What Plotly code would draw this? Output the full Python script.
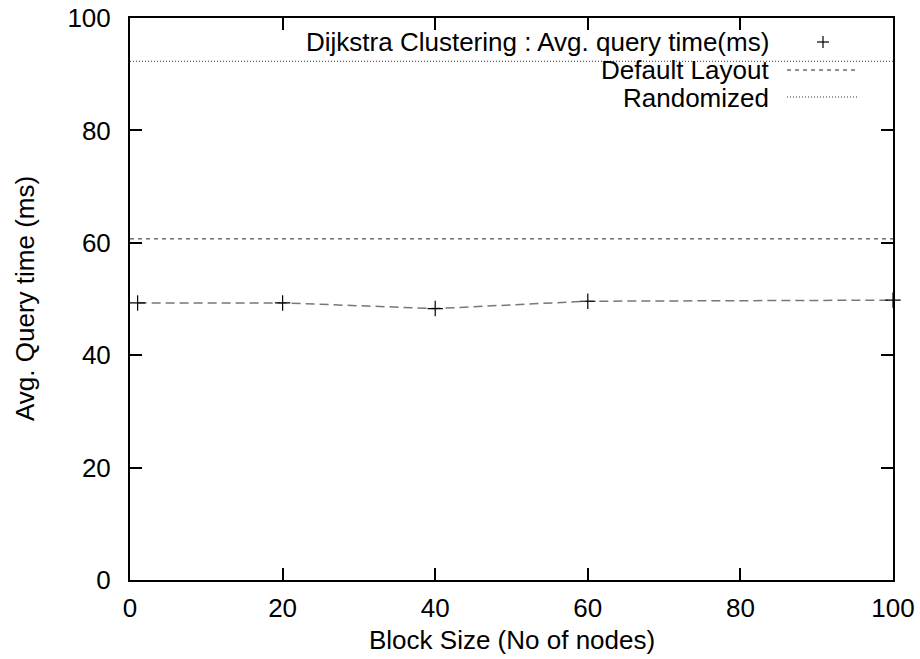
import plotly.graph_objects as go

# Data
block_sizes = [1, 20, 40, 60, 100]
dijkstra_ms = [49.3, 49.3, 48.3, 49.6, 49.8]
default_x = [0, 100]
default_ms = [60.7, 60.7]
random_x = [0, 100]
random_ms = [92.3, 92.3]
x_ticks = [0, 20, 40, 60, 80, 100]
y_ticks = [0, 20, 40, 60, 80, 100]
legend_labels = ["Dijkstra Clustering : Avg. query time(ms)", "Default Layout", "Randomized"]

FONT = "Liberation Sans, Arial, sans-serif"
FS = 26

# plot area in pixels
W, H = 920, 659
L, R, T, B = 130, 27, 18, 79
pw = W - L - R
ph = H - T - B

def px_x(p):
    return (p - L) / pw

def px_y(p):
    return (H - B - p) / ph

fig = go.Figure()

fig.add_trace(go.Scatter(
    x=random_x, y=random_ms, mode="lines",
    line=dict(color="#333333", width=1, dash="1px,2px"),
    name=legend_labels[2], showlegend=False, hoverinfo="skip"))

fig.add_trace(go.Scatter(
    x=default_x, y=default_ms, mode="lines",
    line=dict(color="#222222", width=1, dash="4px,4px"),
    name=legend_labels[1], showlegend=False, hoverinfo="skip"))

fig.add_trace(go.Scatter(
    x=block_sizes, y=dijkstra_ms, mode="lines+markers",
    line=dict(color="#777777", width=1.5, dash="9px,5px"),
    marker=dict(symbol="cross-thin", size=11, line=dict(color="black", width=1.2), color="black"),
    name=legend_labels[0], showlegend=False, cliponaxis=False))

axis_common = dict(
    showgrid=False, zeroline=False, showline=True, linecolor="black", linewidth=2,
    mirror="ticks", ticks="inside", ticklen=12, tickwidth=1.5, tickcolor="black",
    tickfont=dict(family=FONT, size=FS, color="black"),
)

fig.update_xaxes(range=[0, 100], tickvals=x_ticks, ticktext=[str(v) for v in x_ticks],
                 ticklabelstandoff=4, **axis_common)
fig.update_yaxes(range=[0, 100], tickvals=y_ticks, ticktext=[str(v) for v in y_ticks],
                 ticklabelstandoff=12, **axis_common)

annotations = [
    dict(text="Block Size (No of nodes)", x=0.5, y=px_y(640), xref="paper", yref="paper",
         showarrow=False, xanchor="center", yanchor="middle",
         font=dict(family=FONT, size=FS, color="black")),
    dict(text="Avg. Query time (ms)", x=px_x(25), y=0.5, xref="paper", yref="paper",
         showarrow=False, xanchor="center", yanchor="middle", textangle=-90,
         font=dict(family=FONT, size=FS, color="black")),
]
legend_y = [42, 70, 98]
for lab, yy in zip(legend_labels, legend_y):
    annotations.append(dict(text=lab, x=px_x(771), y=px_y(yy), xref="paper", yref="paper",
                            showarrow=False, xanchor="right", yanchor="middle",
                            font=dict(family=FONT, size=FS, color="black")))

shapes = [
    # "+" sample
    dict(type="line", xref="paper", yref="paper", x0=px_x(817), x1=px_x(829), y0=px_y(42), y1=px_y(42),
         line=dict(color="black", width=1.2)),
    dict(type="line", xref="paper", yref="paper", x0=px_x(823), x1=px_x(823), y0=px_y(36), y1=px_y(48),
         line=dict(color="black", width=1.2)),
    # Default Layout sample
    dict(type="line", xref="paper", yref="paper", x0=px_x(787), x1=px_x(857), y0=px_y(70), y1=px_y(70),
         line=dict(color="#222222", width=1, dash="4px,4px")),
    # Randomized sample
    dict(type="line", xref="paper", yref="paper", x0=px_x(787), x1=px_x(857), y0=px_y(97), y1=px_y(97),
         line=dict(color="#333333", width=1, dash="1px,2px")),
]

fig.update_layout(
    width=W, height=H,
    margin=dict(l=L, r=R, t=T, b=B, autoexpand=False),
    paper_bgcolor="white", plot_bgcolor="white",
    showlegend=False,
    font=dict(family=FONT, size=FS, color="black"),
    annotations=annotations, shapes=shapes,
)

fig.write_html("out.html", config={"displayModeBar": False})

# remove default page margin so the figure sits at the window's top-left corner
with open("out.html", "r", encoding="utf-8") as f:
    html = f.read()
html = html.replace("<head>", "<head><style>html,body{margin:0;padding:0;overflow:hidden;}</style>", 1)
with open("out.html", "w", encoding="utf-8") as f:
    f.write(html)
